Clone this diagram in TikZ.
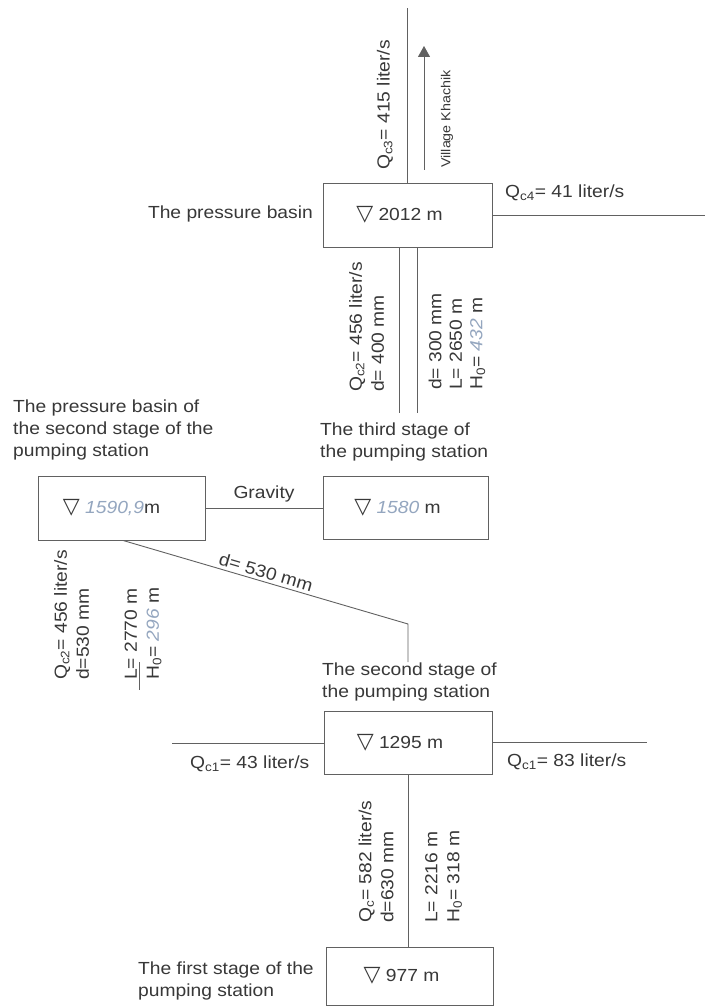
\documentclass[tikz,border=0pt]{standalone}
\usepackage{fontspec}
\setmainfont[FakeStretch=1.1]{Liberation Sans}
\newfontfamily\symfont{DejaVu Sans}
\usetikzlibrary{arrows.meta}
\definecolor{ink}{gray}{0.22}
\definecolor{pipe}{gray}{0.38}
\definecolor{hand}{rgb}{0.58,0.65,0.75}
\newcommand{\tri}{{\symfont\fontsize{22}{22}\selectfont ▽}}
\newcommand{\lev}[1]{\tri\ #1\kern16pt}
\newcommand{\hw}[1]{{\color{hand}\itshape #1}}
\begin{document}
\begin{tikzpicture}[x=1pt,y=-1pt,
  font=\fontsize{17.5}{22}\selectfont, text=ink,
  pipeline/.style={draw=pipe, line width=0.9pt},
  box/.style={draw=pipe, line width=0.9pt, inner sep=0pt, minimum height=63pt},
  lbl/.style={inner sep=0pt, align=left},
  rot/.style={rotate=90, anchor=west, align=left, inner sep=0pt}]
\useasboundingbox (0,0) rectangle (705,1008);
\fill[white] (0,0) rectangle (705,1008);

% boxes
\node[box, minimum width=169pt, minimum height=64pt] (pb)  at (407.5,215) {\lev{2012 m}};
\node[box, minimum width=167pt, minimum height=64pt] (pb2) at (121.5,508) {\tri\ \hw{1590,9}m\kern20pt};
\node[box, minimum width=165pt] (s3)  at (405.5,508) {\tri\ \hw{1580} m\kern16pt};
\node[box, minimum width=168pt] (s2)  at (408,742.5) {\lev{1295 m}};
\node[box, minimum width=167pt, minimum height=58pt] (s1) at (409.5,976) {\lev{977 m}};

% coordinates for free ends
\coordinate (topend) at (407.5,8);
\coordinate (arA) at (424,170);
\coordinate (arB) at (424,46);
\coordinate (rE) at (705,214);
\coordinate (tw1) at (399,413);
\coordinate (tw2) at (417,413);
\coordinate (dA) at (123,541);
\coordinate (dB) at (408,624);
\coordinate (dC) at (408,662);
\coordinate (l2) at (172,743);
\coordinate (r2) at (647,743);
\coordinate (ulA) at (139,662);
\coordinate (ulB) at (139,690);

% connectors
\draw[pipeline] (pb.north) -- (topend);
\draw[pipeline, -{Triangle[length=11pt,width=12pt]}] (arA) -- (arB);
\draw[pipeline] (pb.east) -- (rE |- pb.east);
\draw[pipeline] (pb.south -| tw1) -- (tw1);
\draw[pipeline] (pb.south -| tw2) -- (tw2);
\draw[pipeline] (pb2.east) -- node[above=5pt, inner sep=0pt]{Gravity} (s3.west);
\draw[pipeline] (pb2.south -| dA) -- (dB) -- (dC);
\node[rotate=-16.2, inner sep=0pt] (d530) at (266,572) {d= 530 mm};
\draw[pipeline] (l2) -- (l2 -| s2.west);
\draw[pipeline] (s2.east) -- (r2 |- s2.east);
\draw[pipeline] (s2.south) -- (s2.south |- s1.north);
\draw[pipeline, line width=0.7pt] (ulA) -- (ulB);

% station labels
\node[lbl, anchor=east] (tpb) at (313,214) {The pressure basin};
\node[lbl, anchor=west] (tpb2) at (13,430) {The pressure basin of\\the second stage of the\\pumping station};
\node[lbl, anchor=west] (ts3) at (320,442) {The third stage of\\the pumping station};
\node[lbl, anchor=west] (ts2) at (322,682) {The second stage of\\the pumping station};
\node[lbl, anchor=west] (ts1) at (138,981) {The first stage of the\\pumping station};

% flow labels
\node[lbl, anchor=west] (qc4) at (505,193) {Q\textsubscript{c4}= 41 liter/s};
\node[lbl, anchor=west] (qc1a) at (190,764) {Q\textsubscript{c1}= 43 liter/s};
\node[lbl, anchor=west] (qc1b) at (507,762) {Q\textsubscript{c1}= 83 liter/s};

% rotated labels
\node[rot] (qc3) at (385,170) {Q\textsubscript{c3}= 415 liter/s};
\node[rot, font=\fontsize{13}{16}\selectfont] (vk) at (447,168) {Village Khachik};
\node[rot] (p1) at (366.5,392) {Q\textsubscript{c2}= 456 liter/s\\d= 400 mm};
\node[rot, font=\fontsize{17.5}{20.5}\selectfont] (p2) at (457,390) {d= 300 mm\\L= 2650 m\\H\textsubscript{0}= \hw{432} m};
\node[rot] (p3) at (71.5,680) {Q\textsubscript{c2}= 456 liter/s\\d=530 mm};
\node[rot] (p4) at (143,680) {L= 2770 m\\H\textsubscript{0}= \hw{296} m};
\node[rot] (p5) at (376,923) {Q\textsubscript{c}= 582 liter/s\\d=630 mm};
\node[rot] (p6) at (443.5,923) {L= 2216 m\\H\textsubscript{0}= 318 m};
\end{tikzpicture}
\end{document}
